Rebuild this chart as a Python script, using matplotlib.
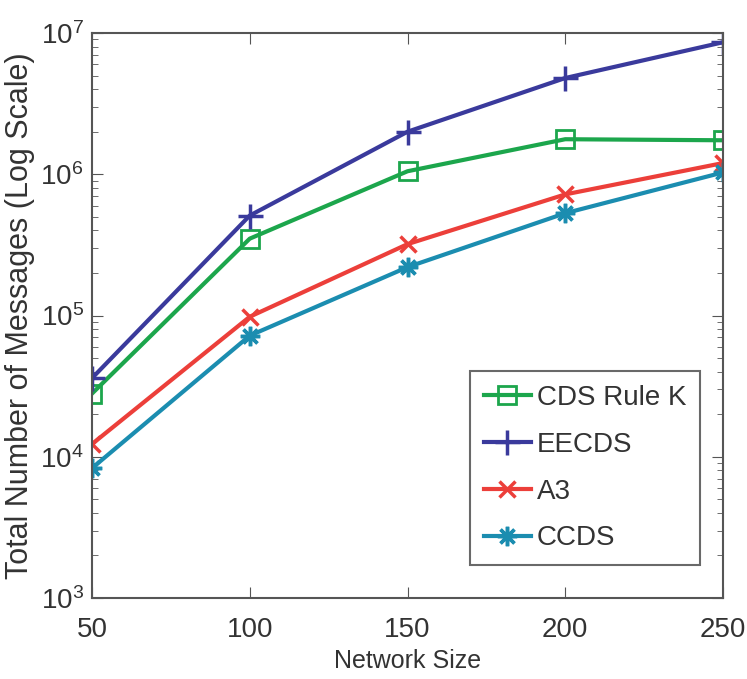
import matplotlib
matplotlib.use("Agg")
import matplotlib.pyplot as plt
from matplotlib.ticker import LogLocator, NullFormatter

plt.rcParams['font.family'] = ['Liberation Sans', 'DejaVu Sans']

network_size = [50, 100, 150, 200, 250]
cds_rule_k = [2.8e4, 3.5e5, 1.05e6, 1.77e6, 1.74e6]
eecds = [3.6e4, 5.1e5, 2.0e6, 4.8e6, 8.6e6]
a3 = [1.23e4, 9.8e4, 3.2e5, 7.2e5, 1.2e6]
ccds = [8.3e3, 7.2e4, 2.2e5, 5.3e5, 1.03e6]

fig = plt.figure(figsize=(7.47, 6.79), dpi=100)
ax = fig.add_axes([92/747, 1-598/679, (723-92)/747, (598-33)/679])

lw = 3
ax.plot(network_size, cds_rule_k, color='#1ca64c', marker='s', markersize=13,
        markerfacecolor='none', markeredgewidth=2, lw=lw, label='CDS Rule K')
ax.plot(network_size, eecds, color='#3a3a9c', marker='+', markersize=18,
        markeredgewidth=2.5, lw=lw, label='EECDS')
ax.plot(network_size, a3, color='#ec3f3a', marker='x', markersize=12,
        markeredgewidth=2.5, lw=lw, label='A3')
ax.plot(network_size, ccds, color='#1b8db0', marker=(8, 2, 0), markersize=14,
        markeredgewidth=2.5, lw=lw, label='CCDS')

ax.set_yscale('log')
ax.set_xlim(50, 250)
ax.set_ylim(1e3, 1e7)
ax.set_xticks([50, 100, 150, 200, 250])
ax.yaxis.set_major_locator(LogLocator(base=10, numticks=10))
ax.yaxis.set_minor_locator(LogLocator(base=10, subs=range(2, 10), numticks=10))
ax.yaxis.set_minor_formatter(NullFormatter())

for s in ax.spines.values():
    s.set_color('#555555')
    s.set_linewidth(1.5)
ax.tick_params(which='both', direction='in', top=True, right=True, colors='#555555',
               labelcolor='#333333', labelsize=20)
ax.tick_params(axis='x', which='major', pad=14)
ax.tick_params(axis='y', which='major', pad=6)
ax.tick_params(which='major', length=8)
ax.tick_params(which='minor', length=4)

ax.set_xlabel('Network Size', fontsize=18, color='#333333', labelpad=4)
ax.set_ylabel('Total Number of Messages (Log Scale)', fontsize=22, color='#333333', labelpad=4)

leg = ax.legend(loc='lower right', bbox_to_anchor=(0.9635, 0.058), fontsize=20,
                frameon=True, fancybox=False, handlelength=1.7, handletextpad=0.2,
                borderpad=0.5, labelspacing=0.75, borderaxespad=0)
leg.get_frame().set_edgecolor('#444444')
leg.get_frame().set_linewidth(1.5)
for t in leg.get_texts():
    t.set_color('#333333')

fig.savefig('out.png', dpi=100)
